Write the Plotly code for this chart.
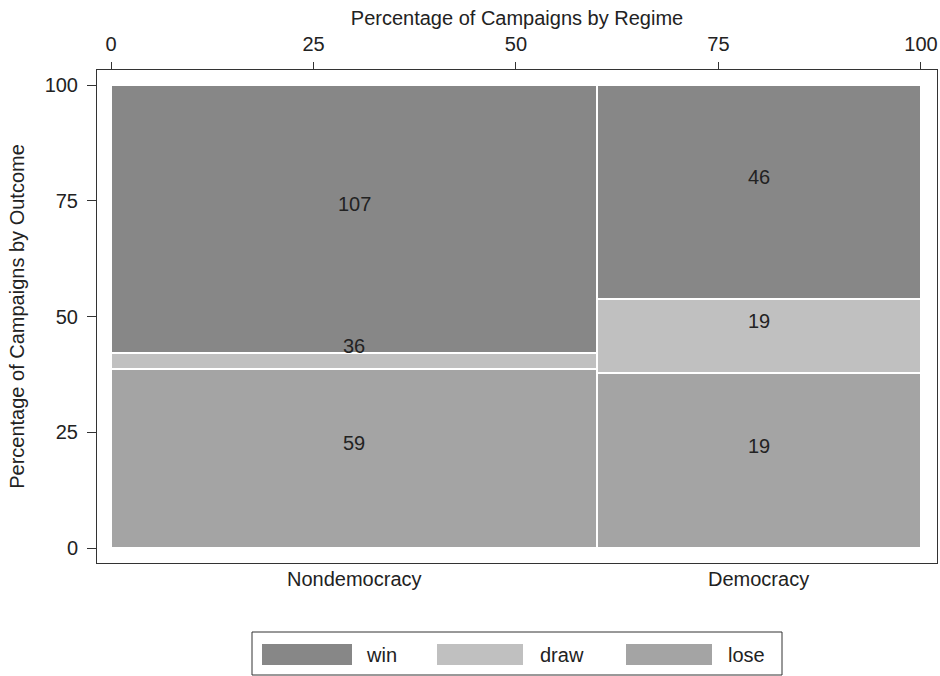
import plotly.graph_objects as go

regimes = ["Nondemocracy", "Democracy"]
regime_share = [60.0, 40.0]            # percent of campaigns by regime (column widths)
outcomes = ["lose", "draw", "win"]     # bottom to top
outcome_share = {                      # percent within each regime
    "lose": [38.7, 37.7],
    "draw": [3.5, 16.0],
    "win": [57.8, 46.3],
}
cell_labels = {
    "lose": ["59", "19"],
    "draw": ["36", "19"],
    "win": ["107", "46"],
}
x_ticks = [0, 25, 50, 75, 100]
y_ticks = [0, 25, 50, 75, 100]

colors = {"win": "#878787", "draw": "#c0c0c0", "lose": "#a4a4a4"}
FONT = "Liberation Sans, Arial, Helvetica, sans-serif"
FS = 20

# column positions
lefts = []
acc = 0.0
for w in regime_share:
    lefts.append(acc)
    acc += w
centers = [l + w / 2 for l, w in zip(lefts, regime_share)]

fig = go.Figure()
bottoms = [0.0] * len(regimes)
annotations = []
for o in outcomes:
    h = outcome_share[o]
    fig.add_trace(go.Bar(
        x=centers, width=regime_share, base=bottoms, y=h,
        marker=dict(color=colors[o], line=dict(color="white", width=2)),
        name=o, showlegend=False, hoverinfo="skip",
    ))
    for i in range(len(regimes)):
        annotations.append(dict(
            x=centers[i], y=bottoms[i] + h[i] / 2, xref="x", yref="y",
            text=cell_labels[o][i], showarrow=False, yshift=15,
            xanchor="center", yanchor="middle",
            font=dict(family=FONT, size=FS, color="#222"),
        ))
    bottoms = [b + v for b, v in zip(bottoms, h)]

# category labels under the plot
for c, r in zip(centers, regimes):
    annotations.append(dict(
        x=c, y=0, xref="x", yref="paper", yanchor="top", yshift=-3,
        xanchor="center",
        text=r, showarrow=False, font=dict(family=FONT, size=FS, color="#222"),
    ))

# custom legend (paper coords)
shapes = []
W, H = 940, 676
ml, mr, mt, mb = 97, 3, 70, 113
pw, ph = W - ml - mr, H - mt - mb

def px(xp):
    return (xp - ml) / pw

def py(yp):
    return (H - mb - yp) / ph

shapes.append(dict(type="rect", xref="paper", yref="paper",
                   x0=px(252), x1=px(782), y0=py(675), y1=py(632),
                   line=dict(color="#333", width=1), fillcolor="white"))
leg_items = [("win", 262, 352, 364), ("draw", 437, 523, 538), ("lose", 626, 712, 726)]
for name, s0, s1, tx in leg_items:
    shapes.append(dict(type="rect", xref="paper", yref="paper",
                       x0=px(s0), x1=px(s1), y0=py(665), y1=py(644),
                       line=dict(width=0), fillcolor=colors[name]))
    annotations.append(dict(x=px(tx), y=py(655), xref="paper", yref="paper",
                            xanchor="left", yanchor="middle", text=name, showarrow=False,
                            font=dict(family=FONT, size=FS, color="#222")))

fig.update_layout(
    width=W, height=H,
    margin=dict(l=ml, r=mr, t=mt, b=mb),
    paper_bgcolor="white", plot_bgcolor="white",
    barmode="overlay", bargap=0,
    font=dict(family=FONT, size=FS, color="#222"),
    annotations=annotations, shapes=shapes,
    xaxis=dict(
        range=[-1.73, 101.98], side="top", tickvals=x_ticks,
        ticks="outside", ticklen=7, tickcolor="#333", ticklabelstandoff=3,
        showgrid=False, zeroline=False,
        showline=True, linecolor="#333", linewidth=1, mirror=True,
        title=dict(text="Percentage of Campaigns by Regime", standoff=2,
                   font=dict(size=FS)),
        tickfont=dict(size=FS),
    ),
    yaxis=dict(
        range=[-3.24, 103.24], tickvals=y_ticks,
        ticks="outside", ticklen=9, tickcolor="#333", ticklabelstandoff=5,
        showgrid=False, zeroline=False,
        showline=True, linecolor="#333", linewidth=1, mirror=True,
        title=dict(text="Percentage of Campaigns by Outcome", standoff=14,
                   font=dict(size=FS)),
        tickfont=dict(size=FS),
    ),
)

fig.write_html("out.html", config={"displayModeBar": False},
               post_script="document.body.style.margin='0';document.body.style.padding='0';")
